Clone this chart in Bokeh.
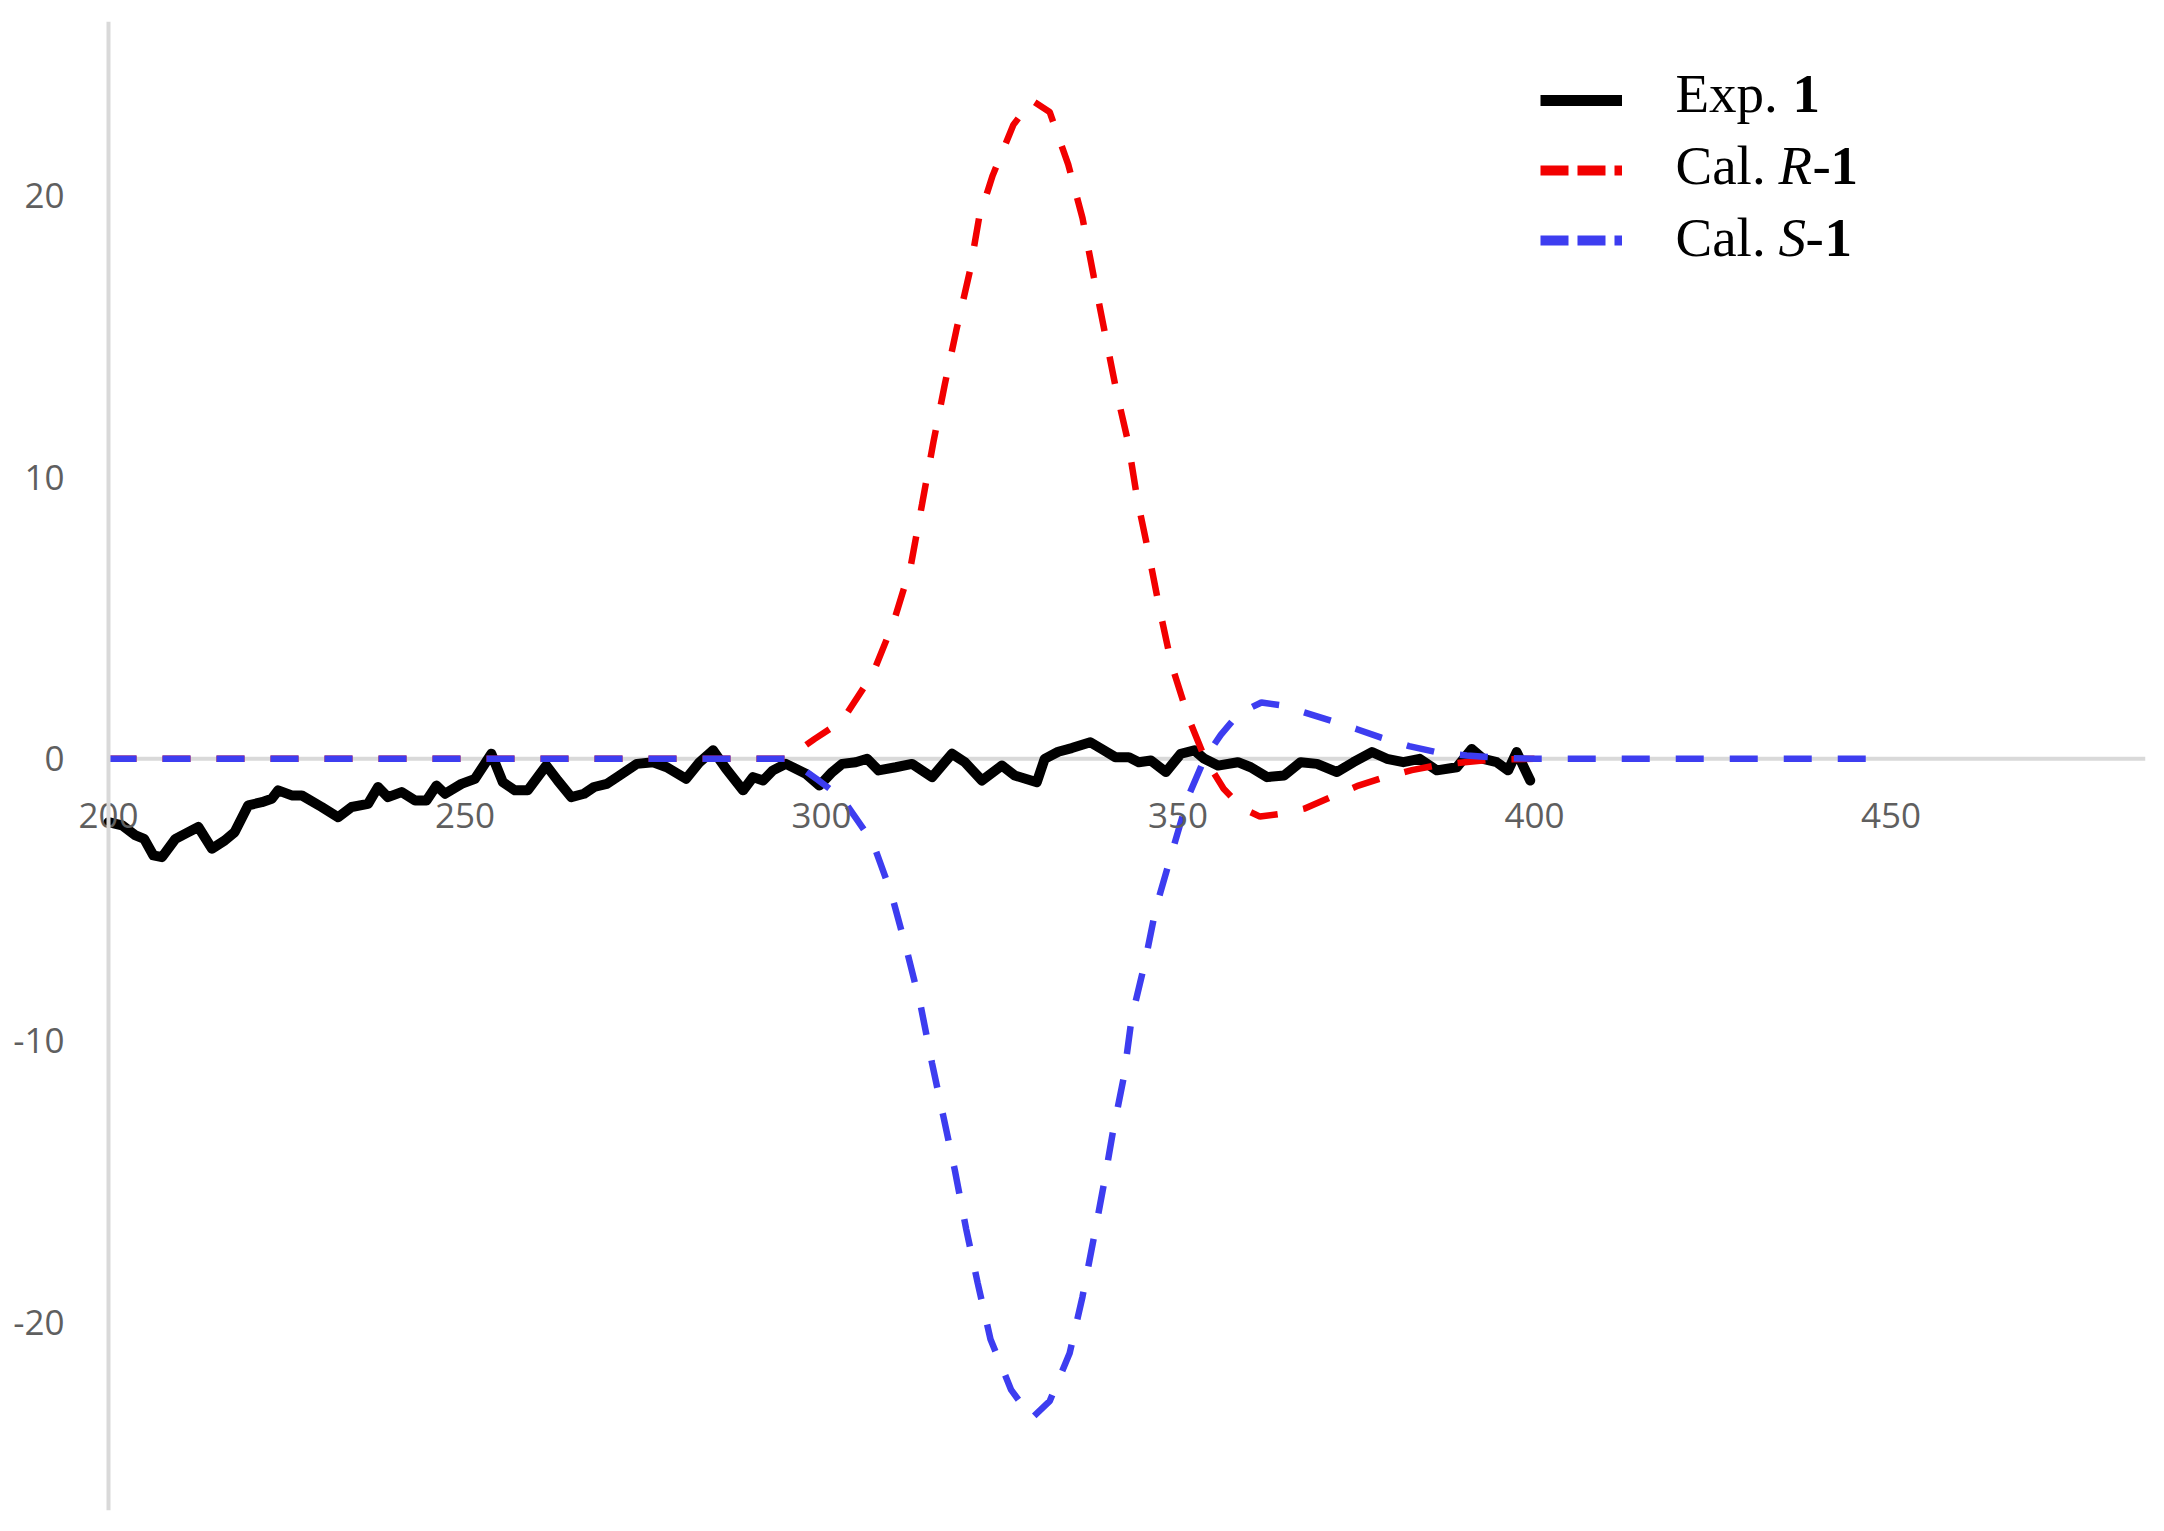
from bokeh.plotting import figure
from bokeh.models import Range1d, FixedTicker, Label, Legend, LegendItem, BoxAnnotation
from bokeh.embed import file_html
from bokeh.resources import INLINE

# ---------------- data ----------------
exp_x = [200, 201.9, 203.8, 205, 206.3, 207.5, 209.4, 211.2, 212.6, 214.5,
         216.3, 217.7, 219.6, 221.5, 222.9, 223.8, 225.7, 227.1, 229.9, 232.2,
         234.1, 236.4, 237.8, 239.2, 241.1, 243, 244.6, 246, 247.2, 249.5,
         251.4, 253.7, 255.3, 257, 258.8, 261.4, 263, 264.9, 266.7, 268.1,
         269.9, 271.7, 274.1, 276.4, 278.3, 281, 282.9, 284.8, 286.6, 289,
         290.4, 291.8, 293.2, 295, 297.8, 299.7, 301.5, 302.9, 304.8, 306.4,
         308, 310.4, 312.7, 315.5, 318.3, 320.1, 322.5, 325.3, 327.1, 330.2,
         331.3, 333.2, 335.1, 337.7, 339.3, 341.2, 343.1, 344.5, 346.2, 348.3,
         350.4, 352.3, 353.7, 355.6, 358.4, 360.2, 362.5, 364.9, 367.2, 369.5,
         372.3, 374.6, 377.2, 379.3, 381.6, 383.9, 386.3, 389.1, 391.2, 392.8,
         394.7, 396.3, 397.5, 398.4, 399.4]
exp_y = [-2.25, -2.36, -2.72, -2.84, -3.43, -3.49, -2.84, -2.6, -2.42, -3.19,
         -2.9, -2.6, -1.65, -1.54, -1.42, -1.12, -1.3, -1.3, -1.71, -2.07,
         -1.71, -1.6, -1.0, -1.36, -1.18, -1.48, -1.48, -0.95, -1.24, -0.89,
         -0.71, 0.18, -0.83, -1.12, -1.12, -0.24, -0.77, -1.36, -1.24, -1.0,
         -0.89, -0.59, -0.18, -0.12, -0.3, -0.71, -0.12, 0.3, -0.35, -1.12,
         -0.65, -0.77, -0.41, -0.18, -0.53, -0.95, -0.47, -0.18, -0.12, 0.0,
         -0.41, -0.3, -0.18, -0.65, 0.18, -0.12, -0.77, -0.24, -0.59, -0.83,
         0.0, 0.25, 0.38, 0.59, 0.35, 0.06, 0.06, -0.12, -0.06, -0.47,
         0.18, 0.3, 0.0, -0.24, -0.12, -0.3, -0.65, -0.59, -0.12, -0.18,
         -0.47, -0.12, 0.24, 0.0, -0.12, 0.0, -0.41, -0.3, 0.35, 0.0,
         -0.12, -0.41, 0.24, -0.24, -0.77]

calR_x = [200, 295, 296.5, 299, 302.9, 307.2, 310.1, 312.5, 314.1, 315.7,
          317.3, 318.9, 320.8, 322.1, 324, 326.9, 329.5, 332, 334.6, 336.6,
          338.2, 339.8, 341.4, 343, 344.3, 345.9, 347.5, 349.1, 351.5, 353.8,
          356.4, 359, 361.5, 364.5, 367.7, 371.5, 375.3, 379, 382.8, 386.5,
          390.2, 394, 400]
calR_y = [0, 0, 0.25, 0.7, 1.35, 3.02, 4.84, 6.82, 9.03, 11.25,
          13.3, 15.2, 17.3, 19.2, 20.7, 22.5, 23.37, 22.96, 21.1, 19.2,
          17.1, 15.05, 13.0, 11.25, 9.2, 7.28, 5.22, 3.34, 1.43, 0.0,
          -1.06, -1.75, -2.05, -1.95, -1.77, -1.35, -0.95, -0.65, -0.4, -0.22,
          -0.12, -0.03, 0]

calS_x = [200, 295, 297, 299.5, 302.9, 307.2, 309.8, 312, 313.9, 315.5,
          317.1, 318.7, 320.3, 321.9, 323.7, 326.6, 329.5, 332, 334.8, 336.6,
          338.2, 339.6, 340.9, 342.4, 343.5, 345.3, 346.9, 349.1, 351.5, 353.7,
          356, 358.5, 361.7, 364.5, 367.7, 371.5, 375, 378.5, 382.4, 386.5,
          390.5, 395, 400, 450]
calS_y = [0, 0, -0.3, -0.75, -1.4, -2.97, -4.79, -6.84, -8.75, -10.8,
          -12.7, -14.6, -16.7, -18.6, -20.6, -22.4, -23.4, -22.8, -21.1, -19.1,
          -17.0, -15.1, -13.2, -11.3, -9.2, -7.3, -5.3, -3.36, -1.3, 0.0,
          0.85, 1.6, 2.0, 1.9, 1.65, 1.35, 1.06, 0.75, 0.45, 0.22,
          0.12, 0.03, 0, 0]

x_ticks = [200, 250, 300, 350, 400, 450]
y_ticks = [-20, -10, 0, 10, 20]
y_tick_text = {-20: "-20", -10: "-10", 0: "0", 10: "10", 20: "20"}

# ---------------- layout ----------------
W, H = 2148, 1515
FR, FT, FB = 2145, 21, 1510          # frame right / top / bottom (figure px); frame left = 0
AXIS_PX = 108                         # where x = 200 sits (figure px)
PX_PER_X = 7.13
X_START = 200
X0 = X_START - AXIS_PX / PX_PER_X
X1 = X_START + (FR - AXIS_PX) / PX_PER_X
Y0, Y1 = -26.68, 26.17

p = figure(width=W, height=H, output_backend="svg", toolbar_location=None,
           x_range=Range1d(X0, X1), y_range=Range1d(Y0, Y1),
           min_border_left=0, min_border_right=W - FR,
           min_border_top=FT, min_border_bottom=H - FB)
p.background_fill_color = "white"
p.border_fill_color = "white"
p.outline_line_color = None
p.grid.visible = False

AX_COL = "#d9d9d9"
LBL_COL = "#5f5f5f"
for ax in (p.xaxis[0], p.yaxis[0]):
    ax.axis_line_color = AX_COL
    ax.axis_line_width = 4
    ax.major_tick_line_color = None
    ax.minor_tick_line_color = None
    ax.major_label_text_color = LBL_COL
    ax.major_label_text_font = "Open Sans"
    ax.major_label_text_font_size = "35px"

p.xaxis.ticker = FixedTicker(ticks=x_ticks)
p.yaxis.ticker = FixedTicker(ticks=y_ticks)
p.yaxis.major_label_overrides = y_tick_text
p.xaxis.fixed_location = 0
p.yaxis.fixed_location = X_START
p.xaxis.axis_line_color = None
p.xaxis.major_label_standoff = 38
p.yaxis.major_label_standoff = 38

# gray horizontal axis line at y = 0 (from x = 200 to the right edge), under the curves
half = 2.0 / 28.17
p.add_layout(BoxAnnotation(left=X_START, bottom=-half, top=half, fill_color=AX_COL,
                           fill_alpha=1.0, line_color=None, level="underlay"))

# ---------------- data lines ----------------
p.line(exp_x, exp_y, line_color="black", line_width=10, line_join="round", line_cap="round")
p.line(calR_x, calR_y, line_color="#f20000", line_width=6.5, line_dash="28 26")
p.line(calS_x, calS_y, line_color="#3d3df0", line_width=6.5, line_dash="28 26")

# ---------------- legend samples ----------------
nan = float("nan")
r_exp = p.line([nan], [nan], line_color="black", line_width=11)
r_R = p.line([nan], [nan], line_color="#f20000", line_width=10, line_dash="28 9")
r_S = p.line([nan], [nan], line_color="#3d3df0", line_width=10, line_dash="28 9")

leg = Legend(items=[LegendItem(label=" ", renderers=[r_exp]),
                    LegendItem(label=" ", renderers=[r_R]),
                    LegendItem(label=" ", renderers=[r_S])],
             location=(1540, 1260), orientation="vertical",
             glyph_width=82, glyph_height=20, label_height=20,
             label_text_font_size="8px", spacing=50, padding=0, margin=0,
             border_line_color=None, background_fill_alpha=0)
p.add_layout(leg, "center")

# ---------------- legend texts (mixed styles) ----------------
def dx(px):
    return X0 + px * (X1 - X0) / FR

def dy(py):
    return Y1 - (py - FT) * (Y1 - Y0) / (FB - FT)

SERIF = "Liberation Serif"
FS = "55px"
tx = dx(1675)
rows = [
    (93, [("Exp. ", 0, "normal"), ("1", 117, "bold")]),
    (165, [("Cal. ", 0, "normal"), ("R", 103, "italic"), ("-", 137, "normal"), ("1", 155, "bold")]),
    (237, [("Cal. ", 0, "normal"), ("S", 103, "italic"), ("-", 130, "normal"), ("1", 149, "bold")]),
]
for py, parts in rows:
    for txt, off, style in parts:
        p.add_layout(Label(x=tx, y=dy(py), x_offset=off, text=txt,
                           text_font=SERIF, text_font_size=FS, text_font_style=style,
                           text_color="black", text_baseline="alphabetic", text_align="left"))

open("out.html", "w").write(file_html(p, INLINE))
